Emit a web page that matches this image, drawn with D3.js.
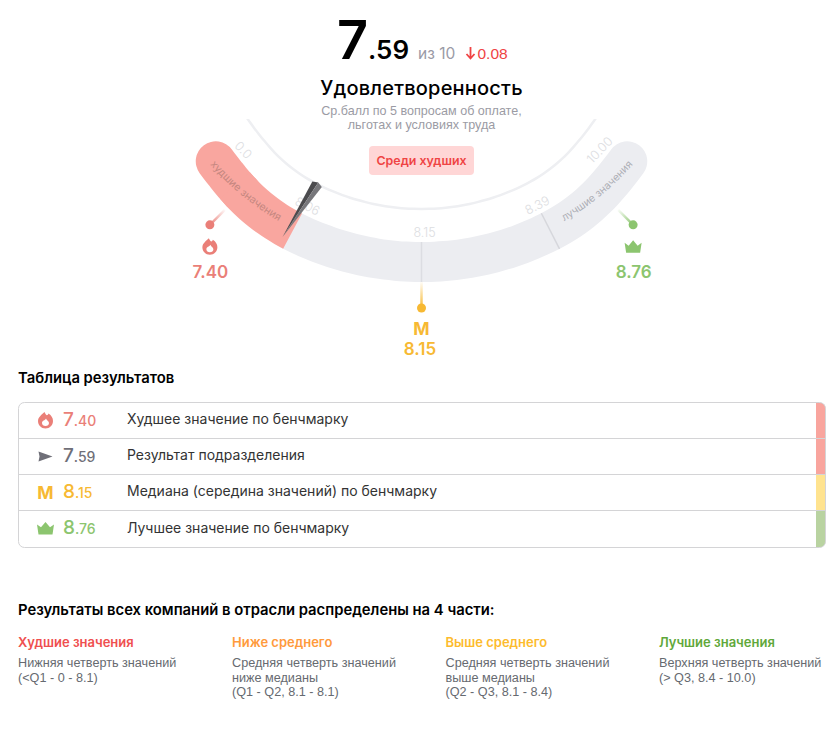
<!DOCTYPE html>
<html><head><meta charset="utf-8">
<script src="https://cdn.jsdelivr.net/npm/d3@7/dist/d3.min.js"></script>
<style>html,body{margin:0;padding:0;background:#fff}svg{display:block}
text{font-family:Inter,sans-serif}.ar{font-family:"Liberation Sans",Arial,sans-serif}</style>
</head><body><div id="c"></div>
<script>
const score = 7.59, scoreMax = 10, delta = 0.08;
const gaugeStops = [0, 7.40, 7.59, 8.06, 8.15, 8.39, 8.76, 10];
const gaugeAngles = [-48.3, -40.3, -28.2, -27, 0, 27, 40.3, 48.3];
const tickValues = [0, 8.06, 8.15, 8.39, 10];
const tickLabels = ["0.0", "8.06", "8.15", "8.39", "10.00"];
const markerValues = [7.40, 8.15, 8.76];
const markerLabels = ["7.40", "8.15", "8.76"];
const markerColors = ["#ea7f78", "#f7b933", "#8cc56f"];
const markerIcons = ["flame", "m", "crown"];
const rowValues = ["7.40", "7.59", "8.15", "8.76"];
const rowLabels = ["Худшее значение по бенчмарку", "Результат подразделения", "Медиана (середина значений) по бенчмарку", "Лучшее значение по бенчмарку"];
const rowColors = ["#ea7f78", "#6f6f78", "#f7b933", "#8cc56f"];
const rowIcons = ["flame", "needle", "m", "crown"];
const rowBars = ["#f9a59e", "#f9a59e", "#ffe38f", "#b9d3a1"];
const quartTitles = ["Худшие значения", "Ниже среднего", "Выше среднего", "Лучшие значения"];
const quartColors = ["#ef4f4f", "#ff9a3c", "#fdbb2d", "#5fa83a"];
const quartLines = [
  ["Нижняя четверть значений", "(<Q1 - 0 - 8.1)"],
  ["Средняя четверть значений", "ниже медианы", "(Q1 - Q2, 8.1 - 8.1)"],
  ["Средняя четверть значений", "выше медианы", "(Q2 - Q3, 8.1 - 8.4)"],
  ["Верхняя четверть значений", "(> Q3, 8.4 - 10.0)"]
];

const W = 840, H = 729, cx = 421.5, cy = -22, rMid = 284, r0 = 264, r1 = 304;
const svg = d3.select("#c").append("svg").attr("width", W).attr("height", H);
const angle = d3.scaleLinear().domain(gaugeStops).range(gaugeAngles);
const shift = d3.scaleLinear().domain([27, 30, 33, 36, 39, 42, 45, 48, 52, 56]).range([0, 0.2, 0.8, 1.8, 3.2, 5, 6.8, 8.3, 10, 12]).clamp(true);
const rad = d => d * Math.PI / 180;
// gauge angle: 0 at the bottom, negative to the left; the band flattens inward toward its ends
const pt = (a, r) => [cx + r * Math.sin(rad(a)), cy + r * Math.cos(rad(a))];
const ptS = (a, r, k = 1) => pt(a, r - k * shift(Math.abs(a)));
const curve = (a, b, r, k = 1) => {
  const n = Math.ceil(Math.abs(b - a) / 2);
  return d3.line().curve(d3.curveCatmullRom)(d3.range(n + 1).map(i => ptS(a + (b - a) * i / n, r, k)));
};
const defs = svg.append("defs");
defs.append("clipPath").attr("id", "cp").append("rect").attr("x", 0).attr("y", 119).attr("width", W).attr("height", 300);

const g = svg.append("g");
// thin inner ring
g.append("path").attr("clip-path", "url(#cp)").attr("fill", "none").attr("stroke", "#eeeff2").attr("stroke-width", 2.5)
  .attr("d", curve(-56, 56, 231, 0.75));
// band
const dMin = gaugeAngles[0], dMax = gaugeAngles[gaugeAngles.length - 1];
const q1 = angle(8.06), q3 = angle(8.39), med = angle(8.15);
const band = (a, b, c, cap) => g.append("path").attr("fill", "none").attr("stroke", c).attr("stroke-width", r1 - r0).attr("stroke-linecap", cap).attr("d", curve(a, b, rMid));
band(q1, dMax, "#ecedf1", "round");
band(dMin, -40, "#f9a69f", "round");
band(-42, q1, "#f9a69f", "butt");
// dividers
[[med, "#dcdde2"], [q3, "#d6d7dc"]].forEach(([a, c]) => {
  const p = pt(a, r0), q = pt(a, r1);
  g.append("line").attr("x1", p[0]).attr("y1", p[1]).attr("x2", q[0]).attr("y2", q[1]).attr("stroke", c).attr("stroke-width", 1.5);
});
// band labels
defs.append("path").attr("id", "pw").attr("d", d3.line()(d3.range(-50, -28.9, 1).map(x => pt(x, 282))));
defs.append("path").attr("id", "pb").attr("d", d3.line()(d3.range(29, 50.1, 1).map(x => pt(x, 282))));
[["pw", "худшие значения", "#c58680"], ["pb", "лучшие значения", "#aeafb6"]].forEach(([id, t, c]) => {
  g.append("text").attr("font-size", 10.5).attr("fill", c).attr("text-anchor", "middle")
    .append("textPath").attr("href", "#" + id).attr("startOffset", "50%").text(t);
});
// tick labels
tickValues.forEach((v, i) => {
  const a = v === 0 ? -46 : v === 10 ? 46 : angle(v);
  const p = ptS(a, 255);
  const tang = (v === 8.15 ? 3 : v === 8.06 ? 2 : 0);
  g.append("text").attr("transform", `translate(${p[0]},${p[1]}) rotate(${-a})`).attr("x", tang).attr("text-anchor", "middle").attr("dy", "0.35em")
    .attr("font-size", 12.5).attr("font-weight", 300).attr("fill", "#dcdde1").text(tickLabels[i]);
});
// needle
const na = angle(score);
const tip = pt(na, 294), b1 = pt(na, 231), b2 = pt(na + 2.7, 231.5), bm = pt(na + 1.4, 229);
g.append("path").attr("fill", "#4b4b4e").attr("d", d3.line()([tip, b1, bm]) + "Z");
g.append("path").attr("fill", "#77777b").attr("d", d3.line()([tip, bm, b2]) + "Z");

function icon(sel, name, c) {
  if (name === "flame") {
    sel.append("path").attr("fill", c).attr("fill-rule", "evenodd").attr("d",
      "M-1,-8.5C0,-6 1,-5 2,-5.5C2.5,-6 3,-6.5 3,-7C6,-5 7.5,-2.5 7.5,0.5C7.5,4.8 4.2,8 0,8C-4.2,8 -7.5,4.8 -7.5,0.5C-7.5,-3.5 -4,-5.5 -1,-8.5Z" +
      "M0.5,-2C1,0 3.5,0.5 3.5,2.5C3.5,4.5 2,5.5 0,5.5C-2,5.5 -3.5,4.2 -3.5,2.5C-3.5,0 -0.5,0 .5,-2Z");
  } else if (name === "crown") {
    sel.append("path").attr("fill", c).attr("d", "M-8.5,-4L-4.5,-1.2L0,-6.5L4.5,-1.2L8.5,-4L7,6L-7,6Z");
  } else if (name === "needle") {
    sel.append("path").attr("fill", c).attr("d", "M-7,-5L7,0L-7,5L-6,0Z");
  } else {
    sel.append("text").attr("text-anchor", "middle").attr("y", 6.5).attr("font-size", 17.5).attr("font-weight", 700).attr("fill", c).text("M");
  }
}
// markers
markerValues.forEach((v, i) => {
  const a = angle(v), c = markerColors[i];
  const start = pt(a, r1), k = a === 0 ? 0 : (a < 0 ? -1 : 1);
  const end = k === 0 ? [start[0], start[1] + 26] : [start[0] + k * 15, start[1] + 15];
  const gid = "mg" + i;
  const lg = defs.append("linearGradient").attr("id", gid).attr("gradientUnits", "userSpaceOnUse")
    .attr("x1", start[0]).attr("y1", start[1]).attr("x2", end[0]).attr("y2", end[1]);
  lg.append("stop").attr("offset", 0).attr("stop-color", c).attr("stop-opacity", 0.05);
  lg.append("stop").attr("offset", 1).attr("stop-color", c);
  g.append("line").attr("x1", start[0]).attr("y1", start[1]).attr("x2", end[0]+0.01).attr("y2", end[1]+0.01).attr("stroke", `url(#${gid})`).attr("stroke-width", 2.5);
  g.append("circle").attr("cx", end[0]).attr("cy", end[1]).attr("r", 4.5).attr("fill", c);
  const ic = g.append("g").attr("transform", `translate(${end[0]},${end[1] + (k === 0 ? 20 : 22)})`);
  icon(ic, markerIcons[i], c);
  g.append("text").attr("x", end[0] + (k===0?-1.5:0.5)).attr("y", end[1] + (k === 0 ? 47 : 53)).attr("text-anchor", "middle").attr("font-size", 17).attr("font-weight", 600).attr("fill", c).text(markerLabels[i]);
});

// header
const [si, sf] = score.toFixed(2).split(".");
svg.append("text").attr("x", 337).attr("y", 59).attr("font-size", 54).attr("font-weight", 600).attr("fill", "#000").text(si);
svg.append("text").attr("x", 368).attr("y", 59).attr("font-size", 26).attr("font-weight", 600).attr("fill", "#000").text("." + sf);
svg.append("text").attr("x", 418).attr("y", 59).attr("font-size", 15.5).attr("fill", "#9a9aa6").text("из " + scoreMax);
svg.append("path").attr("fill", "none").attr("stroke", "#ef4444").attr("stroke-width", 1.8).attr("d", "M470.5,47V58M466.5,54L470.5,58.5L474.5,54");
svg.append("text").attr("class", "ar").attr("x", 477.5).attr("y", 59).attr("font-size", 15.5).attr("fill", "#ef4444").text(delta.toFixed(2));
svg.append("text").attr("x", cx).attr("y", 95).attr("text-anchor", "middle").attr("font-size", 20).attr("letter-spacing", 0.2).attr("font-weight", 500).attr("fill", "#000").text("Удовлетворенность");
["Ср.балл по 5 вопросам об оплате,", "льготах и условиях труда"].forEach((t, i) => {
  svg.append("text").attr("class", "ar").attr("x", cx).attr("y", 114.5 + i * 14).attr("text-anchor", "middle").attr("font-size", 12.55).attr("fill", "#9b9ba4").text(t);
});
svg.append("rect").attr("x", 369).attr("y", 146).attr("width", 105).attr("height", 29).attr("rx", 4).attr("fill", "#ffd6d6");
svg.append("text").attr("x", 421.5).attr("y", 165).attr("text-anchor", "middle").attr("font-size", 12.4).attr("font-weight", 600).attr("fill", "#ef4444").text("Среди худших");

// table
svg.append("text").attr("x", 18).attr("y", 383).attr("font-size", 14.8).attr("font-weight", 600).attr("fill", "#000").text("Таблица результатов");
const rowH = 36, tX = 18.5, tY = 402.5, tW = 807, tH = 145;
defs.append("clipPath").attr("id", "tc").append("rect").attr("x", tX).attr("y", tY).attr("width", tW).attr("height", tH).attr("rx", 6);
const rowsG = svg.append("g");
rowBars.forEach((c, i) => {
  rowsG.append("rect").attr("clip-path", "url(#tc)").attr("x", 816).attr("y", tY + i * rowH).attr("width", 10).attr("height", i === 3 ? rowH + 1 : rowH).attr("fill", c);
});
rowLabels.forEach((t, i) => {
  const y = tY + i * rowH + 18;
  if (i > 0) rowsG.append("line").attr("x1", tX).attr("x2", tX + tW).attr("y1", tY + i * rowH).attr("y2", tY + i * rowH).attr("stroke", "#d4d4d6");
  const ic = rowsG.append("g").attr("transform", `translate(45.5,${y})`);
  icon(ic, rowIcons[i], rowColors[i]);
  const [a, b] = rowValues[i].split(".");
  const tx = rowsG.append("text").attr("x", 63).attr("y", y + 5.5).attr("fill", rowColors[i]).attr("font-weight", 500);
  tx.append("tspan").attr("font-size", 19).text(a);
  tx.append("tspan").attr("font-size", 14).text("." + b);
  rowsG.append("text").attr("x", 127).attr("y", y + 3.5 + (i === 3 ? 1 : 0)).attr("font-size", 14).attr("fill", "#333").text(t);
});
svg.append("rect").attr("x", tX).attr("y", tY).attr("width", tW).attr("height", tH).attr("rx", 6).attr("fill", "none").attr("stroke", "#d4d4d6");

// quartiles
svg.append("text").attr("x", 18).attr("y", 615).attr("font-size", 14.8).attr("font-weight", 600).attr("fill", "#000").text("Результаты всех компаний в отрасли распределены на 4 части:");
const colX = [18, 232, 445.5, 659];
quartTitles.forEach((t, i) => {
  svg.append("text").attr("x", colX[i]).attr("y", 647).attr("font-size", 13).attr("font-weight", 600).attr("fill", quartColors[i]).text(t);
  quartLines[i].forEach((l, j) => {
    svg.append("text").attr("class", "ar").attr("x", colX[i]).attr("y", 667 + j * 14.5).attr("font-size", 12.65).attr("fill", "#666a70").text(l);
  });
});
</script></body></html>
